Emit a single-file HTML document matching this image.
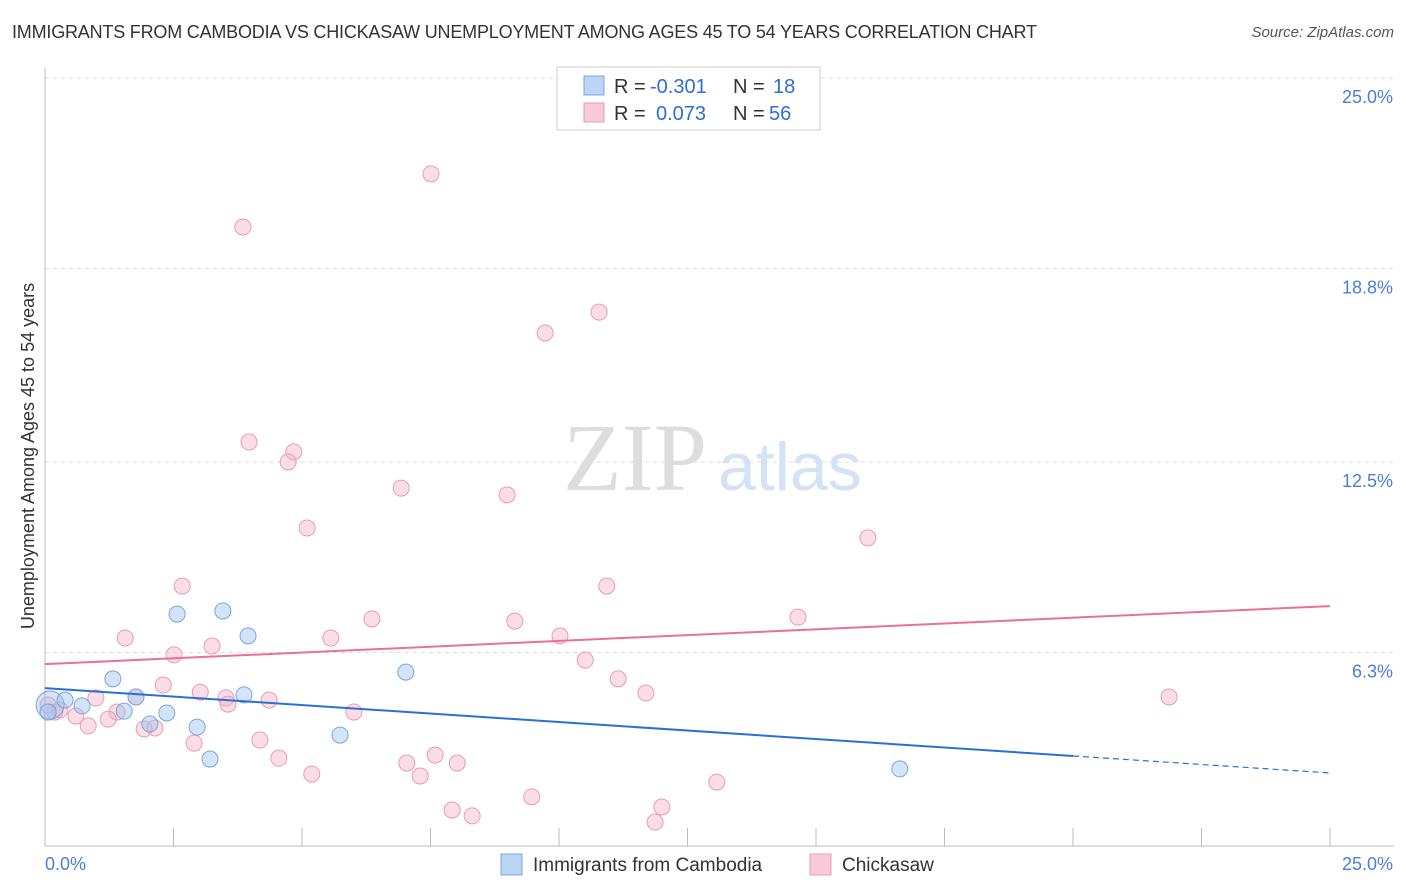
<!DOCTYPE html>
<html><head><meta charset="utf-8">
<style>
body{margin:0;background:#fff;font-family:"Liberation Sans",sans-serif;}
#wrap{position:relative;width:1406px;height:892px;overflow:hidden;}
.title{position:absolute;left:12px;top:22px;font-size:18px;color:#333;letter-spacing:-0.2px;}
.src{position:absolute;right:12px;top:24px;font-size:15px;color:#555;font-style:italic;}
</style></head><body>
<div id="wrap">
<div class="title">IMMIGRANTS FROM CAMBODIA VS CHICKASAW UNEMPLOYMENT AMONG AGES 45 TO 54 YEARS CORRELATION CHART</div>
<div class="src">Source: ZipAtlas.com</div>
<svg id="svg" width="1406" height="892" style="position:absolute;left:0;top:0"></svg>
</div>
<script>
const blueX=[0.10,0.39,0.72,1.32,1.54,1.77,2.04,2.37,2.57,2.96,3.21,3.46,3.87,3.95,5.74,7.02,16.63,0.06];
const blueY=[4.59,4.75,4.56,5.44,4.39,4.85,3.97,4.33,7.55,3.87,2.83,7.65,4.92,6.84,3.61,5.66,2.51,4.36];
const pinkX=[7.51,3.85,10.78,9.73,3.97,4.84,4.73,6.93,8.99,5.10,16.01,2.67,10.93,6.36,9.14,14.65,1.56,5.56,10.02,3.25,2.51,10.51,11.15,2.30,3.02,11.69,21.87,0.99,1.77,3.52,3.56,4.36,0.19,0.60,1.40,6.01,1.23,0.84,1.93,2.14,2.90,4.18,7.59,4.55,7.04,8.02,5.19,7.30,13.07,9.47,12.00,7.92,8.31,11.87,0.06,0.29];
const pinkY=[21.88,20.15,17.38,16.70,13.15,12.83,12.50,11.65,11.43,10.35,10.03,8.46,8.46,7.39,7.32,7.45,6.77,6.77,6.84,6.51,6.22,6.05,5.44,5.24,5.01,4.98,4.85,4.82,4.85,4.82,4.62,4.75,4.36,4.23,4.36,4.36,4.13,3.91,3.81,3.84,3.35,3.45,2.96,2.86,2.70,2.70,2.34,2.28,2.08,1.60,1.27,1.17,0.98,0.78,4.59,4.43];
const yTicks=[25.0,18.8,12.5,6.3];
const yTickLabels=["25.0%","18.8%","12.5%","6.3%"];
const blueTrend=[5.14,-0.1105]; // intercept, slope
const pinkTrend=[5.92,0.0756];
const blueSolidEnd=20;

const NS="http://www.w3.org/2000/svg";
const svg=document.getElementById('svg');
const X0=45,X1=1330,Y0=846,Y1=78;
const xs=v=>X0+(v/25)*(X1-X0);
const ys=v=>Y0-(v/25)*(Y0-Y1);
function mk(tag,attrs,parent){const e=document.createElementNS(NS,tag);for(const k in attrs)e.setAttribute(k,attrs[k]);(parent||svg).appendChild(e);return e;}

// gridlines
yTicks.forEach((t,i)=>{
  const g=mk('line',{x1:X0,x2:1394,y1:ys(t),y2:ys(t),stroke:'#ddd','stroke-dasharray':'4,4'});
  
  
  const tx=mk('text',{x:1393,y:ys(t)+25,'text-anchor':'end','font-size':18,fill:'#4a7fd4'});
  tx.textContent=yTickLabels[i];
  
  
});
// axes
let ax=mk('line',{x1:X0,x2:X0,y1:68,y2:Y0,stroke:'#bbb'});


ax=mk('line',{x1:X0,x2:1394,y1:Y0,y2:Y0,stroke:'#bbb'});


for(let i=1;i<=10;i++){
  const t=mk('line',{x1:xs(i*2.5),x2:xs(i*2.5),y1:828,y2:Y0,stroke:'#bbb'});
  
  
}
let t0=mk('text',{x:45,y:870,'font-size':18,fill:'#4a7fd4'});t0.textContent='0.0%';


let t1=mk('text',{x:1393,y:870,'font-size':18,fill:'#4a7fd4','text-anchor':'end'});t1.textContent='25.0%';


let yt=mk('text',{x:0,y:0,'font-size':18,fill:'#333','text-anchor':'middle',transform:'translate(34,456) rotate(-90)'});
yt.textContent='Unemployment Among Ages 45 to 54 years';


// watermark
let wm=mk('text',{x:635,y:490,'font-size':96,fill:'#ddd','text-anchor':'middle','font-family':'Liberation Serif, serif'});
wm.textContent='ZIP';


let wm2=mk('text',{x:718,y:490,'font-size':68,fill:'#d4e2f5'});
wm2.textContent='atlas';


// points
pinkX.forEach((v,i)=>{
  const c=mk('circle',{cx:xs(v),cy:ys(pinkY[i]),r:8,fill:'rgba(245,180,200,0.45)',stroke:'#eb9ab5','stroke-width':1});
  
  
});
blueX.forEach((v,i)=>{
  const c=mk('circle',{cx:xs(v),cy:ys(blueY[i]),r:i===0?14:8,fill:'rgba(160,195,240,0.45)',stroke:'#7aa5dd','stroke-width':1});
  
  
});
// trend lines
let bl=mk('line',{x1:xs(0),y1:ys(blueTrend[0]),x2:xs(blueSolidEnd),y2:ys(blueTrend[0]+blueTrend[1]*blueSolidEnd),stroke:'#2b6fd6','stroke-width':2});


let bd=mk('line',{x1:xs(blueSolidEnd),y1:ys(blueTrend[0]+blueTrend[1]*blueSolidEnd),x2:xs(25),y2:ys(blueTrend[0]+blueTrend[1]*25),stroke:'#2b6fd6','stroke-width':1.2,'stroke-dasharray':'6,4'});


let pl=mk('line',{x1:xs(0),y1:ys(pinkTrend[0]),x2:xs(25),y2:ys(pinkTrend[0]+pinkTrend[1]*25),stroke:'#e8709a','stroke-width':2});


// top legend
let lb=mk('rect',{x:557,y:67,width:263,height:63,fill:'#fff',stroke:'#ccc'});


[["-0.301","18","rgba(160,195,240,0.7)","#7aa5dd"],["0.073","56","rgba(245,180,200,0.7)","#eb9ab5"]].forEach((r,i)=>{
  const y=76+i*27;
  const s=mk('rect',{x:584,y:y,width:20,height:19,fill:r[2],stroke:r[3]});
  
  
  const t=mk('text',{x:614,y:y+17,'font-size':20,fill:'#333'});
  t.innerHTML='R = <tspan fill="#2b6fd6" x="'+(i===0?650:656)+'">'+r[0]+'</tspan><tspan fill="#333" x="733">N =</tspan><tspan fill="#2b6fd6" x="'+(i===0?773:769)+'">'+r[1]+'</tspan>';
  
  
});
// bottom legend
[[501,"Immigrants from Cambodia","rgba(160,195,240,0.7)","#7aa5dd"],[810,"Chickasaw","rgba(245,180,200,0.7)","#eb9ab5"]].forEach(r=>{
  const s=mk('rect',{x:r[0],y:854,width:21,height:21,fill:r[2],stroke:r[3]});
  
  
  const t=mk('text',{x:r[0]+32,y:871,'font-size':19,fill:'#333'});
  t.textContent=r[1];
  
  
});
</script>
</body></html>
